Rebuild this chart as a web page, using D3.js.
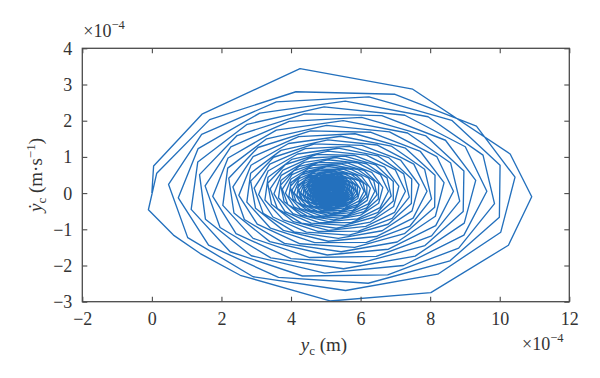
<!DOCTYPE html>
<html><head><meta charset="utf-8">
<script src="https://cdn.jsdelivr.net/npm/d3@7"></script>
<style>
body{margin:0;background:#fff}
</style>
</head><body>
<svg id="chart" width="600" height="378"></svg>
<script>
// displacement y_c (x 1e-4 m) and velocity dy_c/dt (x 1e-4 m/s), trajectory order
const yc = [
 0.00,0.05,1.44,4.26,7.50,10.30,10.92,10.25,8.02,5.12,2.54,1.39,0.62,-0.10,
 0.14,1.66,4.14,6.99,9.33,10.44,10.03,8.22,5.57,2.91,1.03,0.48,1.43,3.58,6.24,8.62,10.01,9.99,8.57,6.22,3.64,1.63,0.76,1.33,3.10,5.56,7.94,9.52,9.85,8.82,6.78,4.33,2.25,1.13,1.32,2.74,4.95,7.27,9.01,9.63,8.97,7.23,4.97,2.86,1.54,
 1.37,2.45,4.39,6.61,8.44,9.31,8.98,7.57,5.51,3.42,1.96,1.53,2.27,3.95,6.03,7.88,8.97,8.95,7.85,6.01,4.00,2.42,1.75,2.19,3.58,5.50,7.35,8.59,8.85,8.04,6.45,4.54,2.91,2.04,2.18,3.30,5.02,6.83,8.19,8.67,8.16,6.80,5.04,3.39,2.36,
 2.21,3.05,4.56,6.30,7.72,8.40,8.15,7.05,5.44,3.81,2.66,2.33,2.91,4.22,5.84,7.29,8.14,8.13,7.26,5.83,4.26,3.03,2.50,2.85,3.93,5.43,6.88,7.84,8.04,7.42,6.17,4.68,3.41,2.73,2.84,3.71,5.06,6.47,7.53,7.91,7.51,6.45,5.07,3.78,2.98,
 2.84,3.50,4.68,6.04,7.15,7.68,7.48,6.62,5.36,4.09,3.20,2.94,3.39,4.41,5.68,6.81,7.47,7.46,6.79,5.67,4.44,3.48,3.07,3.34,4.19,5.36,6.49,7.24,7.40,6.91,5.94,4.77,3.78,3.25,3.34,4.02,5.07,6.17,7.00,7.29,6.98,6.15,5.08,4.07,3.44,
 3.33,3.84,4.76,5.82,6.69,7.10,6.95,6.28,5.30,4.30,3.61,3.40,3.76,4.55,5.54,6.43,6.94,6.94,6.41,5.54,4.58,3.83,3.51,3.72,4.38,5.29,6.17,6.76,6.88,6.50,5.74,4.83,4.06,3.64,3.71,4.24,5.06,5.93,6.57,6.80,6.56,5.91,5.07,4.29,3.80,
 3.70,4.09,4.81,5.64,6.32,6.64,6.52,6.00,5.23,4.46,3.91,3.75,4.03,4.65,5.43,6.11,6.52,6.51,6.10,5.42,4.67,4.09,3.84,4.00,4.51,5.23,5.92,6.38,6.47,6.17,5.58,4.87,4.27,3.94,4.00,4.41,5.05,5.72,6.23,6.41,6.22,5.71,5.06,4.44,4.06,
 3.98,4.29,4.85,5.50,6.03,6.28,6.19,5.78,5.18,4.58,4.15,4.03,4.24,4.73,5.33,5.87,6.18,6.18,5.86,5.33,4.74,4.29,4.09,4.22,4.62,5.18,5.72,6.07,6.15,5.92,5.45,4.90,4.43,4.17,4.22,4.54,5.04,5.56,5.96,6.10,5.95,5.56,5.04,4.57,4.27,
 4.19,4.44,4.88,5.38,5.80,5.99,5.92,5.60,5.13,4.66,4.33,4.23,4.40,4.78,5.25,5.67,5.91,5.91,5.66,5.25,4.79,4.43,4.28,4.38,4.69,5.13,5.55,5.83,5.89,5.71,5.34,4.91,4.54,4.35,4.38,4.63,5.02,5.43,5.74,5.85,5.73,5.42,5.02,4.65,4.42,
 4.39,4.58,4.93,5.32,5.64,5.80,5.74,5.49,5.12,4.76,4.50,4.42,4.55,4.85,5.22,5.54,5.74,5.73,5.54,5.21,4.86,4.58,4.46,4.54,4.78,5.12,5.45,5.67,5.71,5.57,5.29,4.95,4.66,4.51,4.54,4.73,5.04,5.36,5.60,5.68,5.59,5.35,5.04,4.75,4.57,
 4.55,4.70,4.96,5.27,5.52,5.64,5.60,5.40,5.12,4.83,4.63,4.57,4.67,4.90,5.19,5.45,5.60,5.59,5.44,5.19,4.91,4.69,4.60,4.66,4.85,5.12,5.37,5.54,5.58,5.47,5.25,4.99,4.76,4.64,4.66,4.81,5.05,5.30,5.49,5.56,5.48,5.30,5.05,4.83,4.68,
 4.67,4.79,4.99,5.23,5.43,5.52,5.49,5.34,5.12,4.89,4.73,4.69,4.77,4.95,5.17,5.37,5.49,5.49,5.37,5.17,4.95,4.78,4.71,4.76,4.91,5.11,5.31,5.45,5.47,5.39,5.22,5.01,4.83,4.74,4.76,4.88,5.06,5.26,5.40,5.46,5.40,5.25,5.06,4.89,4.78,
 4.76,4.85,5.02,5.20,5.36,5.43,5.40,5.29,5.11,4.94,4.81,4.78,4.84,4.98,5.16,5.31,5.40,5.40,5.31,5.15,4.99,4.85,4.80,4.83,4.95,5.11,5.27,5.37,5.39,5.33,5.19,5.03,4.89,4.82,4.83,4.93,5.07,5.22,5.34,5.38,5.33,5.22,5.07,4.93,4.85,
 4.84,4.91,5.04,5.18,5.30,5.36,5.34,5.24,5.11,4.97,4.88,4.85,4.90,5.01,5.14,5.26,5.34,5.33,5.26,5.14,5.01,4.91,4.86,4.89,4.98,5.11,5.23,5.31,5.33,5.28,5.17,5.05,4.94,4.88,4.89,4.96,5.08,5.20,5.29,5.32,5.28,5.19,5.08,4.97,4.90,
 4.90,4.95,5.05,5.16,5.26,5.30,5.29,5.21,5.11,5.00,4.93,4.90,4.94,5.03,5.13,5.23,5.28,5.28,5.23,5.13,5.03,4.95,4.91,4.94,5.01,5.11,5.20,5.26,5.28,5.24,5.15,5.06,4.97,4.93,4.94,4.99,5.08,5.18,5.24,5.27,5.24,5.17,5.08,5.00,4.95,
 4.94,4.98,5.06,5.15,5.22,5.26,5.24,5.19,5.11,5.02,4.96,4.95,4.98,5.04,5.13,5.20,5.24,5.24,5.20,5.13,5.05,4.98,4.96,4.97,5.03,5.11,5.18,5.23,5.24,5.21,5.14,5.07,5.00,4.97,4.97,5.02,5.09,5.16,5.21,5.23,5.21,5.16,5.09,5.02,4.98,
 4.98,5.01,5.07,5.14,5.20,5.22,5.21,5.17,5.10,5.04,4.99,4.98,5.00,5.06,5.12,5.18,5.21,5.21,5.18,5.12,5.06,5.01,4.99,5.00,5.04,5.10,5.16,5.20,5.21,5.18,5.13,5.07,5.02,5.00,5.00,5.04,5.09,5.15,5.19,5.20,5.19,5.15,5.09,5.04,5.01,
 5.00,5.03,5.08,5.13,5.18,5.20,5.19,5.15,5.10,5.05,5.02,5.01,5.02,5.07,5.12,5.16,5.19,5.19,5.16,5.12,5.07,5.03,5.01,5.02,5.06,5.10,5.15,5.18,5.19,5.17,5.13,5.08,5.04,5.02,5.02,5.05,5.09,5.14,5.17,5.18,5.17,5.14,5.09,5.05,5.03,
 5.15,5.05,5.14,5.06,5.13,5.07,5.12,5.08,5.11,5.10
];
const vc = [
 0.00,0.75,2.18,3.44,2.87,1.08,-0.10,-1.44,-2.75,-2.98,-2.27,-1.67,-1.16,-0.46,
 0.55,2.03,2.80,2.73,1.85,0.44,-1.08,-2.24,-2.69,-2.31,-1.23,0.24,1.62,2.52,2.66,2.01,0.77,-0.67,-1.87,-2.49,-2.33,-1.44,-0.13,1.23,2.21,2.54,2.11,1.05,-0.29,-1.52,-2.26,-2.29,-1.62,-0.45,0.86,1.90,2.38,2.15,1.28,0.05,-1.16,-2.00,-2.21,-1.73,-0.72,
 0.51,1.59,2.19,2.14,1.46,0.35,-0.83,-1.74,-2.09,-1.79,-0.95,0.20,1.28,1.98,2.09,1.58,0.61,-0.51,-1.45,-1.93,-1.81,-1.12,-0.09,0.97,1.74,2.00,1.66,0.83,-0.22,-1.18,-1.75,-1.78,-1.25,-0.34,0.69,1.50,1.87,1.69,1.01,0.05,-0.90,-1.55,-1.71,-1.34,-0.55,
 0.41,1.26,1.72,1.68,1.15,0.29,-0.64,-1.35,-1.62,-1.39,-0.73,0.17,1.01,1.56,1.64,1.24,0.49,-0.39,-1.12,-1.50,-1.40,-0.86,-0.06,0.77,1.37,1.57,1.30,0.66,-0.16,-0.91,-1.36,-1.37,-0.97,-0.25,0.55,1.18,1.47,1.33,0.80,0.05,-0.69,-1.20,-1.33,-1.03,-0.42,
 0.33,0.99,1.36,1.32,0.91,0.23,-0.49,-1.04,-1.25,-1.07,-0.56,0.14,0.80,1.23,1.29,0.98,0.39,-0.29,-0.86,-1.16,-1.08,-0.66,-0.04,0.61,1.08,1.24,1.03,0.53,-0.11,-0.70,-1.05,-1.06,-0.74,-0.19,0.44,0.93,1.16,1.05,0.64,0.05,-0.53,-0.92,-1.03,-0.79,-0.31,
 0.27,0.79,1.07,1.04,0.72,0.19,-0.37,-0.80,-0.97,-0.83,-0.43,0.12,0.63,0.97,1.02,0.78,0.32,-0.22,-0.66,-0.89,-0.83,-0.51,-0.02,0.49,0.85,0.98,0.81,0.42,-0.08,-0.53,-0.81,-0.82,-0.57,-0.13,0.35,0.74,0.92,0.83,0.51,0.05,-0.40,-0.71,-0.79,-0.61,-0.23,
 0.22,0.62,0.85,0.83,0.57,0.16,-0.28,-0.61,-0.74,-0.63,-0.32,0.11,0.51,0.77,0.81,0.62,0.26,-0.16,-0.51,-0.69,-0.64,-0.38,0.00,0.39,0.68,0.77,0.65,0.34,-0.05,-0.41,-0.62,-0.63,-0.43,-0.09,0.29,0.59,0.73,0.66,0.41,0.05,-0.30,-0.54,-0.61,-0.46,-0.17,
 0.18,0.50,0.67,0.66,0.46,0.14,-0.20,-0.47,-0.57,-0.48,-0.24,0.09,0.41,0.61,0.64,0.49,0.21,-0.11,-0.38,-0.53,-0.49,-0.29,0.01,0.32,0.54,0.61,0.52,0.28,-0.03,-0.31,-0.47,-0.48,-0.33,-0.06,0.23,0.47,0.58,0.52,0.33,0.05,-0.22,-0.41,-0.46,-0.35,-0.12,
 0.15,0.40,0.54,0.52,0.37,0.12,-0.15,-0.35,-0.43,-0.37,-0.18,0.08,0.33,0.49,0.51,0.40,0.18,-0.08,-0.29,-0.40,-0.37,-0.21,0.02,0.26,0.43,0.49,0.41,0.23,-0.01,-0.23,-0.36,-0.36,-0.25,-0.04,0.19,0.38,0.46,0.42,0.27,0.05,-0.16,-0.31,-0.35,-0.26,-0.09,
 0.13,0.32,0.43,0.42,0.30,0.10,-0.11,-0.27,-0.33,-0.28,-0.13,0.08,0.27,0.39,0.41,0.32,0.15,-0.05,-0.22,-0.30,-0.28,-0.16,0.02,0.21,0.35,0.39,0.33,0.19,0.00,-0.17,-0.27,-0.27,-0.18,-0.02,0.16,0.31,0.37,0.34,0.22,0.05,-0.12,-0.23,-0.26,-0.20,-0.06,
 0.11,0.26,0.35,0.34,0.24,0.09,-0.07,-0.20,-0.24,-0.20,-0.09,0.07,0.22,0.32,0.33,0.26,0.13,-0.03,-0.16,-0.22,-0.21,-0.11,0.03,0.18,0.28,0.32,0.27,0.16,0.01,-0.12,-0.20,-0.20,-0.13,0.00,0.14,0.25,0.30,0.28,0.18,0.05,-0.08,-0.17,-0.19,-0.14,-0.03,
 0.10,0.22,0.28,0.28,0.20,0.08,-0.04,-0.14,-0.18,-0.15,-0.06,0.07,0.18,0.26,0.27,0.21,0.11,-0.01,-0.11,-0.16,-0.15,-0.08,0.03,0.15,0.23,0.26,0.22,0.13,0.02,-0.08,-0.14,-0.15,-0.09,0.01,0.12,0.21,0.25,0.23,0.15,0.05,-0.05,-0.12,-0.14,-0.10,-0.01,
 0.09,0.18,0.23,0.23,0.17,0.08,-0.02,-0.10,-0.13,-0.10,-0.03,0.06,0.15,0.21,0.22,0.18,0.10,0.00,-0.08,-0.12,-0.11,-0.05,0.04,0.13,0.19,0.21,0.19,0.12,0.03,-0.05,-0.10,-0.10,-0.06,0.02,0.10,0.17,0.20,0.19,0.13,0.05,-0.03,-0.08,-0.10,-0.07,0.00,
 0.08,0.15,0.19,0.19,0.14,0.07,-0.01,-0.07,-0.09,-0.07,-0.02,0.06,0.13,0.18,0.18,0.15,0.09,0.01,-0.05,-0.08,-0.07,-0.03,0.04,0.11,0.16,0.18,0.16,0.10,0.03,-0.03,-0.07,-0.07,-0.04,0.03,0.09,0.15,0.17,0.16,0.11,0.05,-0.01,-0.05,-0.07,-0.04,0.01,
 0.07,0.13,0.16,0.16,0.12,0.07,0.00,-0.04,-0.06,-0.04,0.00,0.06,0.11,0.15,0.15,0.13,0.08,0.02,-0.03,-0.05,-0.05,-0.01,0.04,0.10,0.14,0.15,0.13,0.09,0.04,-0.01,-0.04,-0.04,-0.02,0.03,0.08,0.12,0.14,0.13,0.10,0.05,0.00,-0.03,-0.04,-0.02,0.02,
 0.07,0.11,0.14,0.13,0.11,0.06,0.01,-0.02,-0.04,-0.02,0.01,0.06,0.10,0.13,0.13,0.11,0.07,0.03,-0.01,-0.03,-0.02,0.00,0.04,0.09,0.12,0.13,0.11,0.08,0.04,0.00,-0.02,-0.02,0.00,0.03,0.08,0.11,0.12,0.12,0.09,0.05,0.01,-0.01,-0.02,-0.01,0.03,
 0.06,0.10,0.12,0.12,0.09,0.06,0.02,-0.01,-0.02,-0.01,0.02,0.05,0.09,0.11,0.11,0.10,0.07,0.03,0.00,-0.01,-0.01,0.01,0.05,0.08,0.10,0.11,0.10,0.07,0.04,0.01,-0.01,-0.01,0.01,0.04,0.07,0.10,0.11,0.10,0.08,0.05,0.02,0.00,-0.01,0.01,0.03,
 0.06,0.09,0.10,0.10,0.08,0.06,0.03,0.01,0.00,0.01,0.03,0.05,0.08,0.10,0.10,0.09,0.06,0.04,0.01,0.00,0.01,0.02,0.05,0.07,0.09,0.10,0.09,0.07,0.04,0.02,0.01,0.01,0.02,0.04,0.07,0.09,0.09,0.09,0.07,0.05,0.03,0.01,0.01,0.02,0.04,
 0.07,0.03,0.02,0.08,0.07,0.02,0.03,0.07,0.06,0.05
];
const xTicks = [-2, 0, 2, 4, 6, 8, 10, 12];
const yTicks = [-3, -2, -1, 0, 1, 2, 3, 4];
const xDomain = [-2, 12];
const yDomain = [-3, 4];

const FONT = "'Liberation Serif','Times New Roman','DejaVu Serif',serif";
const TXT = "#333333";
const svg = d3.select("#chart");
const L = 82.3, R = 569.3, T = 48.3, B = 301.7;
const x = d3.scaleLinear().domain(xDomain).range([L, R]);
const y = d3.scaleLinear().domain(yDomain).range([B, T]);
const axisColor = "#4a4a4a";
const fmt = d => (d < 0 ? "\u2212" + Math.abs(d) : String(d));

// trajectory
const pts = yc.map((v, i) => [v, vc[i]]);
svg.append("path")
  .datum(pts)
  .attr("fill", "none")
  .attr("stroke", "#2370bd")
  .attr("stroke-width", 1.35)
  .attr("stroke-linejoin", "round")
  .attr("d", d3.line().x(d => x(d[0])).y(d => y(d[1])));

// axes
const gx = svg.append("g").attr("transform", `translate(0,${B})`).attr("color", axisColor)
  .call(d3.axisBottom(x).tickValues(xTicks).tickSize(-5).tickPadding(0).tickFormat(fmt));
gx.select(".domain").remove();
const gxt = svg.append("g").attr("transform", `translate(0,${T})`).attr("color", axisColor)
  .call(d3.axisTop(x).tickValues(xTicks).tickSize(-5).tickFormat(""));
gxt.select(".domain").remove();
const gy = svg.append("g").attr("transform", `translate(${L},0)`).attr("color", axisColor)
  .call(d3.axisLeft(y).tickValues(yTicks).tickSize(-5).tickPadding(0).tickFormat(fmt));
gy.select(".domain").remove();
const gyr = svg.append("g").attr("transform", `translate(${R},0)`).attr("color", axisColor)
  .call(d3.axisRight(y).tickValues(yTicks).tickSize(-5).tickFormat(""));
gyr.select(".domain").remove();
svg.selectAll("g").attr("font-family", null).attr("font-size", null);
gx.selectAll("text").attr("y", 23).attr("dy", 0);
gy.selectAll("text").attr("x", -10).attr("dy", "0.33em");
svg.selectAll(".tick line").attr("stroke-width", 1.1);

svg.append("rect").attr("x", L).attr("y", T).attr("width", R - L).attr("height", B - T)
  .attr("fill", "none").attr("stroke", axisColor).attr("stroke-width", 1.3);

// exponent labels
const e1 = svg.append("text").attr("x", L + 1).attr("y", 37);
e1.append("tspan").text("\u00d710");
e1.append("tspan").attr("dy", -8).style("font-size", "12.5px").text("\u22124");
const e2 = svg.append("text").attr("x", 522).attr("y", 350);
e2.append("tspan").text("\u00d710");
e2.append("tspan").attr("dy", -8).style("font-size", "12.5px").text("\u22124");

// x label
const xl = svg.append("text").attr("x", 324).attr("y", 351).attr("text-anchor", "middle").style("font-size", "19px");
xl.append("tspan").style("font-style", "italic").text("y");
xl.append("tspan").attr("dy", 4).style("font-size", "13px").text("c");
xl.append("tspan").attr("dy", -4).text(" (m)");

// y label
const yl = svg.append("text").attr("transform", `translate(42,${(T + B) / 2}) rotate(-90)`)
  .attr("text-anchor", "middle").style("font-size", "19px");
yl.append("tspan").style("font-style", "italic").text("\u1e8f");
yl.append("tspan").attr("dy", 4).style("font-size", "13px").text("c");
yl.append("tspan").attr("dy", -4).text(" (m\u00b7s");
yl.append("tspan").attr("dy", -7).style("font-size", "13px").text("\u22121");
yl.append("tspan").attr("dy", 7).text(")");

svg.selectAll("text").style("font-family", FONT).style("fill", TXT)
  .each(function () { if (!this.style.fontSize) this.style.fontSize = "18px"; });
</script>
</body></html>
